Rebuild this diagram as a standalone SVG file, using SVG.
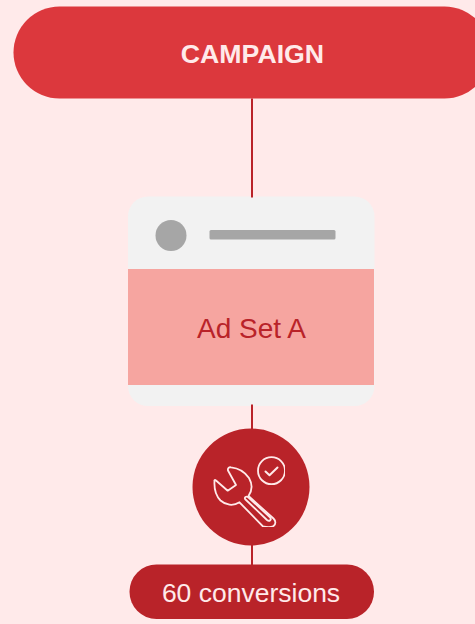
<svg xmlns="http://www.w3.org/2000/svg" width="475" height="624" viewBox="0 0 475 624">
<style>
.ln{stroke:#b92329;stroke-width:2;fill:none}
.t{font-family:"Liberation Sans",Arial,sans-serif;text-anchor:middle}
.ic{fill:none;stroke:#ffeaea;stroke-width:1.800;stroke-linejoin:round;stroke-linecap:round}
</style>
<defs><clipPath id="icClip"><rect x="210" y="452" width="75" height="75"/></clipPath></defs>
<rect width="475" height="624" fill="#ffeaea"/>
<g id="campaign">
<rect x="13.500" y="6.500" width="477" height="92" rx="46" fill="#dc383d"/>
<text class="t" x="252.500" y="63" font-size="26.700" font-weight="700" fill="#ffeaea">CAMPAIGN</text>
</g>
<g id="adset">
<rect x="128" y="196.500" width="246.500" height="209.500" rx="20" fill="#f2f2f2"/>
<circle cx="171" cy="235.500" r="15.500" fill="#a6a6a6"/>
<rect x="209.500" y="230" width="126" height="9.500" rx="1.500" fill="#a6a6a6"/>
<rect x="128" y="269" width="246" height="116" fill="#f6a5a0"/>
<text class="t" x="251.500" y="338" font-size="28" fill="#b92329">Ad Set A</text>
</g>
<g id="connectors">
<path class="ln" d="M252 98.500V197.500M252 404.500V429M252 545V565"/>
</g>
<g id="tool">
<circle cx="251" cy="487" r="58.500" fill="#b92329"/>
<g clip-path="url(#icClip)" class="ic">
<circle cx="271.500" cy="470.700" r="13.500"/>
<path d="M265.500 471.500l4 3.800 8-7.800" stroke-width="2"/>
<path d="M214.500 481C214 480 215 479.500 216 480.500L227.700 490.700 236 485 228 470.500C227.500 468 229 467 231 467.300 238 468 245 472 249 478 253 485 252 491 248.500 496L273.500 518.500C276 521 276 524 273.500 526 271 527.500 266 527 263 526.500L239.500 502.300C233 506.500 225.500 505 220.500 500.500 216 496 214 489 214.500 481Z"/>
<path d="M245.500 499.500L267 520C269.500 522 272 519.500 270 517.300L248.500 497.500C246.500 495.500 243.500 497.500 245.500 499.500Z"/>
</g>
</g>
<g id="conversions">
<rect x="129.500" y="564.500" width="244.500" height="54.500" rx="27" fill="#b92329"/>
<text class="t" x="251" y="601.500" font-size="26.500" fill="#ffeaea">60 conversions</text>
</g>
</svg>
